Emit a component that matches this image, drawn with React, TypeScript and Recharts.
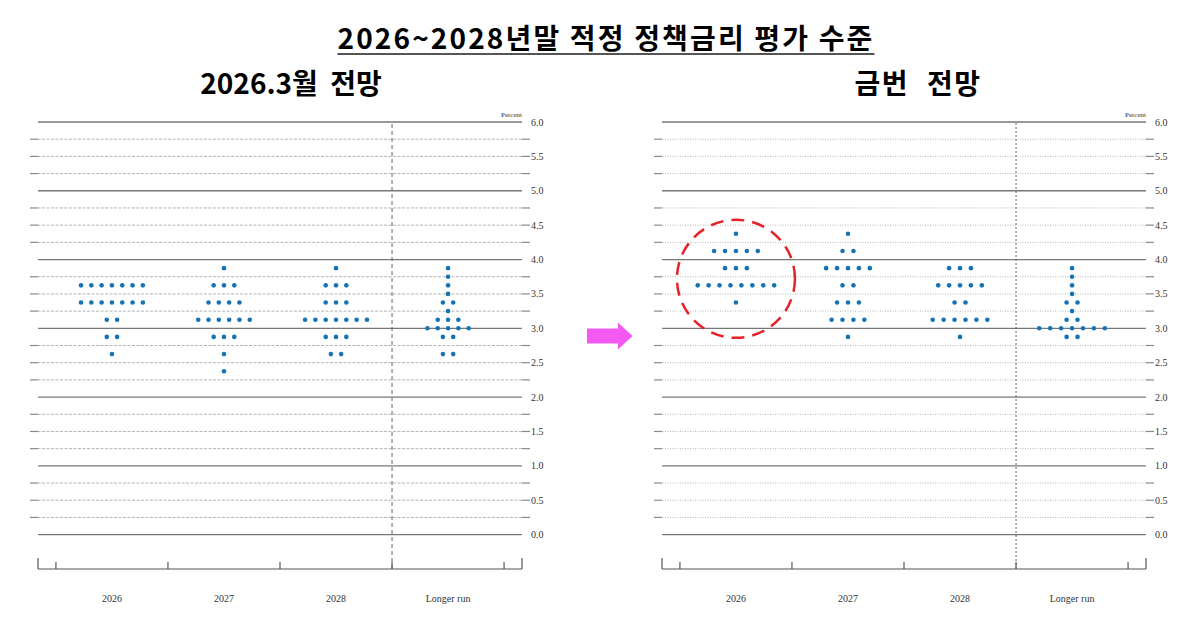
import { ScatterChart, Scatter, XAxis, YAxis, ReferenceLine, ReferenceDot } from 'recharts';

// policy rate levels (midpoints of 25bp ranges) used by both charts
const levels = [4.375, 4.125, 3.875, 3.75, 3.625, 3.5, 3.375, 3.25, 3.125, 3.0, 2.875, 2.625, 2.375];
const categories = ['2026', '2027', '2028', 'Longer run'];

// 2026.3 projections: number of participants at each level
const mar2026 = [0, 0, 0, 0, 7, 0, 7, 0, 2, 0, 2, 1, 0];
const mar2027 = [0, 0, 1, 0, 3, 0, 4, 0, 6, 0, 3, 1, 1];
const mar2028 = [0, 0, 1, 0, 3, 0, 3, 0, 7, 0, 3, 2, 0];
const marLonger = [0, 0, 1, 1, 1, 1, 2, 1, 3, 5, 2, 2, 0];

// current projections
const now2026 = [1, 5, 3, 0, 8, 0, 1, 0, 0, 0, 0, 0, 0];
const now2027 = [1, 2, 5, 0, 2, 0, 3, 0, 4, 0, 1, 0, 0];
const now2028 = [0, 0, 3, 0, 5, 0, 2, 0, 6, 0, 1, 0, 0];
const nowLonger = [0, 0, 1, 1, 1, 1, 2, 1, 2, 7, 2, 0, 0];

const yTicks = [0, 0.5, 1, 1.5, 2, 2.5, 3, 3.5, 4, 4.5, 5, 5.5, 6];
const gridLevels = Array.from({ length: 25 }, (_, i) => i * 0.25);
const xTicks = [0.34, 0.5, 1, 1.5, 2, 2.5, 3, 3.5, 4, 4.5, 4.66];
const highlightRate = 3.72;

const DOT = '#1673b3';
const SERIF = '"Liberation Serif", "DejaVu Serif", serif';
const KR = '"Noto Sans CJK KR", sans-serif';

const buildDots = (counts: number[][], step: number) => {
    const pts: { x: number; y: number }[] = [];
    counts.forEach((col, c) => {
        col.forEach((n, li) => {
            for (let i = 0; i < n; i++) {
                pts.push({ x: c + 1 + (i - (n - 1) / 2) * step, y: levels[li] });
            }
        });
    });
    return pts;
};

const marDots = buildDots([mar2026, mar2027, mar2028, marLonger], 0.092);
const nowDots = buildDots([now2026, now2027, now2028, nowLonger], 0.0975);

const XTick = ({ x, y, payload }: any) => {
    const v = payload.value;
    if (Number.isInteger(v)) {
        return (
            <text x={x} y={y + 33} textAnchor="middle" fontFamily={SERIF} fontSize={10} fill="#333">
                {categories[v - 1]}
            </text>
        );
    }
    const end = v < 0.5 || v > 4.5;
    return <line x1={x} x2={x} y1={y} y2={y - (end ? 11 : 7)} stroke="#555" strokeWidth={1.2} />;
};

const gridShape = (dash: string) => (p: any) => (
    <g>
        <line x1={p.x1} x2={p.x2} y1={p.y1} y2={p.y2} stroke="#b4b4b4" strokeDasharray={dash} strokeWidth={1} />
        <line x1={p.x1} x2={p.x1 + 8} y1={p.y1} y2={p.y2} stroke="#8a8a8a" strokeWidth={1.2} />
        <line x1={p.x2 - 8} x2={p.x2} y1={p.y1} y2={p.y2} stroke="#8a8a8a" strokeWidth={1.2} />
    </g>
);

function DotPlot({ data, width, marginRight, dash, sepDash, highlight }: any) {
    const shape = gridShape(dash);
    return (
        <ScatterChart width={width} height={531} margin={{ top: 22, left: 38, right: marginRight, bottom: 22 }}>
            <XAxis
                type="number"
                dataKey="x"
                domain={[0.34, 4.66]}
                ticks={xTicks}
                interval={0}
                tickSize={0}
                tickMargin={0}
                tickLine={false}
                axisLine={{ stroke: '#555', strokeWidth: 1.2 }}
                tick={<XTick />}
                height={40}
                allowDataOverflow
            />
            <YAxis
                type="number"
                dataKey="y"
                orientation="right"
                domain={[-0.5, 6]}
                ticks={yTicks}
                interval={0}
                width={40}
                tickSize={0}
                tickMargin={9}
                axisLine={false}
                tickLine={false}
                tickFormatter={(v: number) => v.toFixed(1)}
                tick={{ fontSize: 10, fontFamily: SERIF, fill: '#333', textAnchor: 'start' }}
                allowDataOverflow
            />
            {gridLevels.map((g) =>
                Number.isInteger(g) ? (
                    <ReferenceLine key={g} y={g} stroke="#777" strokeWidth={1.3} />
                ) : (
                    <ReferenceLine key={g} y={g} shape={shape} />
                )
            )}
            <ReferenceLine x={3.5} stroke="#666" strokeDasharray={sepDash} strokeWidth={1} />
            <Scatter
                data={data}
                isAnimationActive={false}
                shape={(p: any) => <circle cx={p.cx} cy={p.cy} r={2.3} fill={DOT} />}
            />
            {highlight && (
                <ReferenceDot
                    x={1}
                    y={highlightRate}
                    r={59}
                    fill="none"
                    stroke="#e8202a"
                    strokeWidth={2.5}
                    strokeDasharray="13 8"
                    ifOverflow="visible"
                />
            )}
        </ScatterChart>
    );
}

export default function App() {
    return (
        <div style={{ position: 'absolute', left: 0, top: 0, width: 1200, height: 631, overflow: 'hidden', background: '#fff' }}>
            <div
                style={{
                    position: 'absolute', left: 0, width: 1212, top: 20, textAlign: 'center',
                    fontFamily: KR, fontWeight: 700, fontSize: 28, lineHeight: '34px', letterSpacing: 2.15,
                    textDecoration: 'underline', textDecorationColor: '#555', textDecorationThickness: 2, textUnderlineOffset: 4,
                }}
            >
                2026~2028년말 적정 정책금리 평가 수준
            </div>
            <div style={{ position: 'absolute', left: 0, width: 582, top: 65, textAlign: 'center', fontFamily: KR, fontWeight: 700, fontSize: 28, lineHeight: '34px', wordSpacing: 6 }}>
                2026.3월 전망
            </div>
            <div style={{ position: 'absolute', left: 818, width: 200, top: 65, textAlign: 'center', fontFamily: KR, fontWeight: 700, fontSize: 28, lineHeight: '34px', letterSpacing: 1.5, wordSpacing: 10 }}>
                금번 전망
            </div>

            <div style={{ position: 'absolute', left: 0, top: 100 }}>
                <DotPlot data={marDots} width={600} marginRight={38} dash="3 1.5" sepDash="4 3" />
            </div>
            <div style={{ position: 'absolute', left: 624, top: 100 }}>
                <DotPlot data={nowDots} width={576} marginRight={14} dash="1 1.5" sepDash="2 2" highlight />
            </div>

            <span style={{ position: 'absolute', left: 501, top: 111, fontFamily: SERIF, fontSize: 7, color: '#333' }}>Percent</span>
            <span style={{ position: 'absolute', left: 1125, top: 111, fontFamily: SERIF, fontSize: 7, color: '#333' }}>Percent</span>

            <svg style={{ position: 'absolute', left: 584, top: 320 }} width={52} height={32}>
                <polygon points="3,8.5 34,8.5 34,2.5 48.5,16 34,29.5 34,23.5 3,23.5" fill="#f45af2" />
            </svg>
        </div>
    );
}
